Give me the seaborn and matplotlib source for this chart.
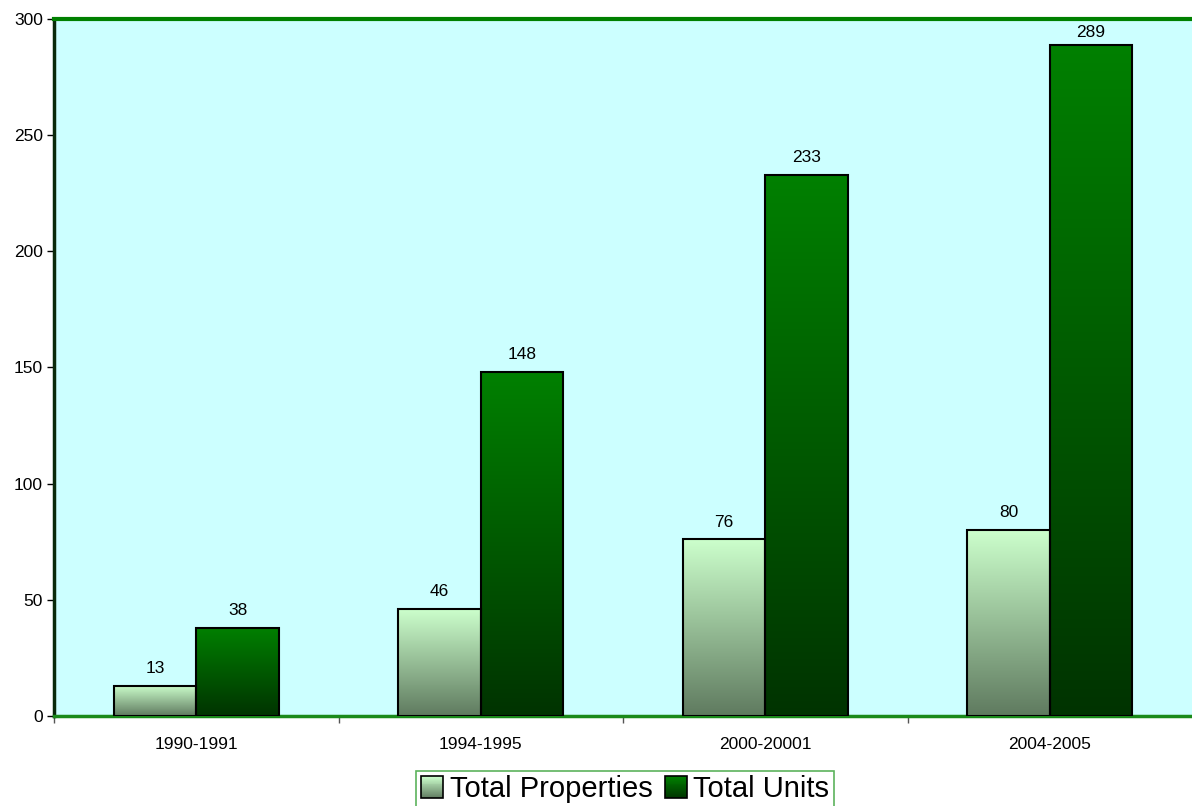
import numpy as np
import pandas as pd
import matplotlib
matplotlib.use("Agg")
import matplotlib.pyplot as plt
import seaborn as sns
from matplotlib.colors import LinearSegmentedColormap
from matplotlib.patches import Patch, Rectangle
from matplotlib.legend_handler import HandlerBase

categories = ["1990-1991", "1994-1995", "2000-20001", "2004-2005"]
total_properties = [13, 46, 76, 80]
total_units = [38, 148, 233, 289]
series_names = ["Total Properties", "Total Units"]
y_ticks = [0, 50, 100, 150, 200, 250, 300]

df = pd.DataFrame({
    "period": categories * 2,
    "value": total_properties + total_units,
    "series": [series_names[0]] * 4 + [series_names[1]] * 4,
})

sns.set_theme(style="white")
plt.rcParams["font.family"] = ["Liberation Sans", "DejaVu Sans"]

fig = plt.figure(figsize=(11.92, 8.06), dpi=100)
ax = fig.add_axes([54 / 1192, 90 / 806, 1 - 54 / 1192, (716 - 19) / 806])
ax.set_facecolor("#CCFFFF")

sns.barplot(data=df, x="period", y="value", hue="series", order=categories,
            hue_order=series_names, width=0.58, gap=0, dodge=True,
            palette=["#A6CCA6", "#006000"], edgecolor="black", linewidth=1.5,
            legend=False, ax=ax, zorder=3)

grads = [("#5F7A5F", "#CCFFCC"), ("#003300", "#008000")]
cmaps = [LinearSegmentedColormap.from_list("g%d" % i, list(c)) for i, c in enumerate(grads)]
g = np.linspace(0, 1, 256).reshape(-1, 1)
all_labels = []
for cont, cmap in zip(ax.containers, cmaps):
    for p in cont.patches:
        x0, y0 = p.get_x(), p.get_y()
        w, h = p.get_width(), p.get_height()
        im = ax.imshow(g, extent=[x0, x0 + w, y0, y0 + h], origin="lower",
                       cmap=cmap, aspect="auto", zorder=3.5, interpolation="bilinear")
        im.set_clip_path(p)
        p.set_facecolor("none")
        p.set_zorder(4)
    anns = ax.bar_label(cont, labels=[str(int(v)) for v in cont.datavalues],
                        padding=7, fontsize=12.5, color="black", zorder=5)
    all_labels.extend(zip(cont.datavalues, anns))

# the label of the tallest bar sits a little closer to its bar (squeezed by the top edge)
vmax, ann_max = max(all_labels, key=lambda t: t[0])
ann_max.xyann = (0, 3.5)

ax.set_xlim(-0.5, 3.5)
ax.set_ylim(0, 300)
ax.set_yticks(y_ticks)
ax.set_yticklabels([str(t) for t in y_ticks], fontsize=12.5)
ax.set_xticks(range(4))
ax.set_xticklabels(categories, fontsize=12.5)
ax.set_xticks([-0.5, 0.5, 1.5, 2.5], minor=True)
ax.tick_params(axis="x", which="major", length=0, pad=15, colors="black")
ax.tick_params(axis="x", which="minor", length=5, width=1, color="#555555", direction="out", bottom=True)
ax.tick_params(axis="y", length=5, width=1, color="black", direction="out", left=True, pad=3, colors="black")
ax.set_xlabel("")
ax.set_ylabel("")
ax.grid(False)

for s in ["top", "bottom", "left", "right"]:
    ax.spines[s].set_visible(True)
ax.spines["top"].set_color("#008000")
ax.spines["top"].set_linewidth(3)
ax.spines["bottom"].set_color("#1a8a1a")
ax.spines["bottom"].set_linewidth(2.5)
ax.spines["left"].set_color("#0a2a0a")
ax.spines["left"].set_linewidth(2.5)
ax.spines["right"].set_visible(False)


class GradientHandler(HandlerBase):
    def __init__(self, cmap):
        super().__init__()
        self.cmap = cmap

    def create_artists(self, legend, orig_handle, xdescent, ydescent, width,
                       height, fontsize, trans):
        n = 24
        side = min(width, height)
        x0 = -xdescent + (width - side) / 2
        y0 = -ydescent + (height - side) / 2
        arts = []
        for i in range(n):
            r = Rectangle((x0, y0 + side * i / n), side, side / n + 0.3,
                          facecolor=self.cmap(i / (n - 1)), edgecolor="none",
                          transform=trans)
            arts.append(r)
        arts.append(Rectangle((x0, y0), side, side, facecolor="none",
                              edgecolor="black", linewidth=1.2, transform=trans))
        return arts


handles = [Patch(facecolor="#A6CCA6"), Patch(facecolor="#006000")]
leg = fig.legend(handles, series_names, loc="upper center",
                 bbox_to_anchor=(625 / 1192, 1 - 771 / 806), ncol=2,
                 fontsize=21, frameon=True, fancybox=False, handlelength=0.8,
                 handleheight=0.8, handletextpad=0.2, columnspacing=0.4,
                 borderpad=0.15, borderaxespad=0,
                 handler_map={handles[0]: GradientHandler(cmaps[0]),
                              handles[1]: GradientHandler(cmaps[1])})
for t in leg.get_texts():
    t.set_color("black")
leg.get_frame().set_edgecolor("#33A033")
leg.get_frame().set_linewidth(1.2)
leg.get_frame().set_facecolor("white")

fig.savefig("out.png", dpi=100)
